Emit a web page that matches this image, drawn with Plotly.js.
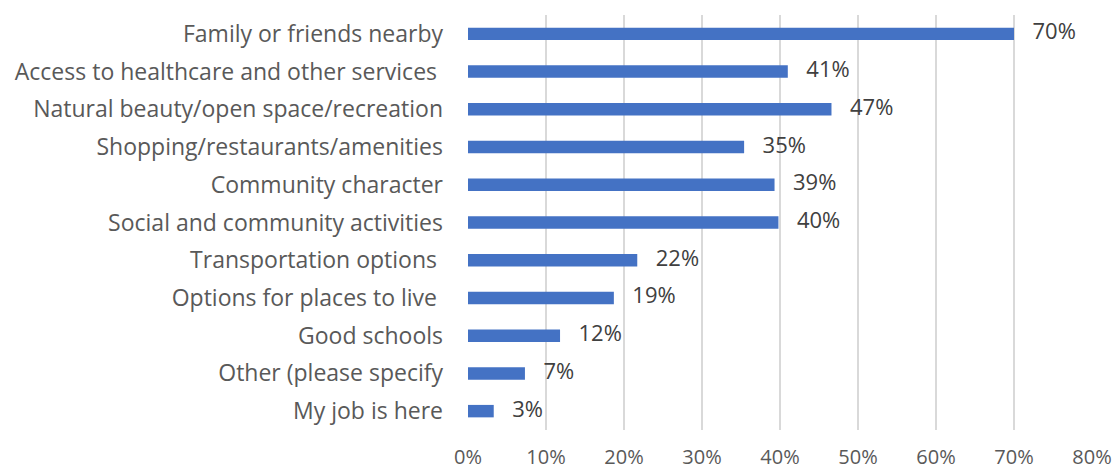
<!DOCTYPE html>
<html>
<head>
<meta charset="utf-8">
<script src="https://cdn.plot.ly/plotly-3.0.1.min.js"></script>
<style>html,body{margin:0;padding:0;background:#fff;}#chart{width:1119px;height:470px;}</style>
</head>
<body>
<div id="chart"></div>
<script>
const categories = [
  "Family or friends nearby",
  "Access to healthcare and other services ",
  "Natural beauty/open space/recreation",
  "Shopping/restaurants/amenities",
  "Community character",
  "Social and community activities",
  "Transportation options ",
  "Options for places to live ",
  "Good schools",
  "Other (please specify",
  "My job is here"
];
const values = [0.70, 0.41, 0.466, 0.354, 0.393, 0.398, 0.217, 0.187, 0.118, 0.073, 0.033];
const valueLabels = ["70%", "41%", "47%", "35%", "39%", "40%", "22%", "19%", "12%", "7%", "3%"];
const tickVals = [0, 0.1, 0.2, 0.3, 0.4, 0.5, 0.6, 0.7, 0.8];
const tickText = ["0%", "10%", "20%", "30%", "40%", "50%", "60%", "70%", "80%"];

const fontFam = "Open Sans, Lato, sans-serif";
const bars = {
  type: "bar",
  orientation: "h",
  x: values,
  y: categories,
  marker: {color: "#4472C4"},
  hoverinfo: "none"
};
const labels = {
  type: "scatter",
  mode: "markers+text",
  x: values,
  y: categories,
  text: valueLabels,
  textposition: "middle right",
  cliponaxis: false,
  marker: {size: 28, opacity: 0},
  textfont: {family: fontFam, size: 22, color: "#404040"},
  hoverinfo: "none"
};
const layout = {
  width: 1119, height: 470,
  margin: {l: 468, r: 27, t: 15, b: 40},
  paper_bgcolor: "#fff", plot_bgcolor: "#fff",
  bargap: 0.67,
  showlegend: false,
  font: {family: fontFam, size: 20, color: "#595959"},
  xaxis: {
    range: [0, 0.8],
    tickvals: tickVals, ticktext: tickText,
    showgrid: true, gridcolor: "#D9D9D9", gridwidth: 1.5,
    zeroline: false, showline: false,
    ticks: "", ticklabelstandoff: 13,
    tickfont: {family: fontFam, size: 20, color: "#595959"},
    fixedrange: true
  },
  yaxis: {
    range: [categories.length - 0.5, -0.5],
    autorange: false,
    showgrid: false, zeroline: false, showline: false,
    ticks: "", ticklabelstandoff: 24,
    tickfont: {family: fontFam, size: 23, color: "#595959"},
    fixedrange: true
  }
};
Plotly.newPlot("chart", [bars, labels], layout, {staticPlot: true, displayModeBar: false});
</script>
</body>
</html>
